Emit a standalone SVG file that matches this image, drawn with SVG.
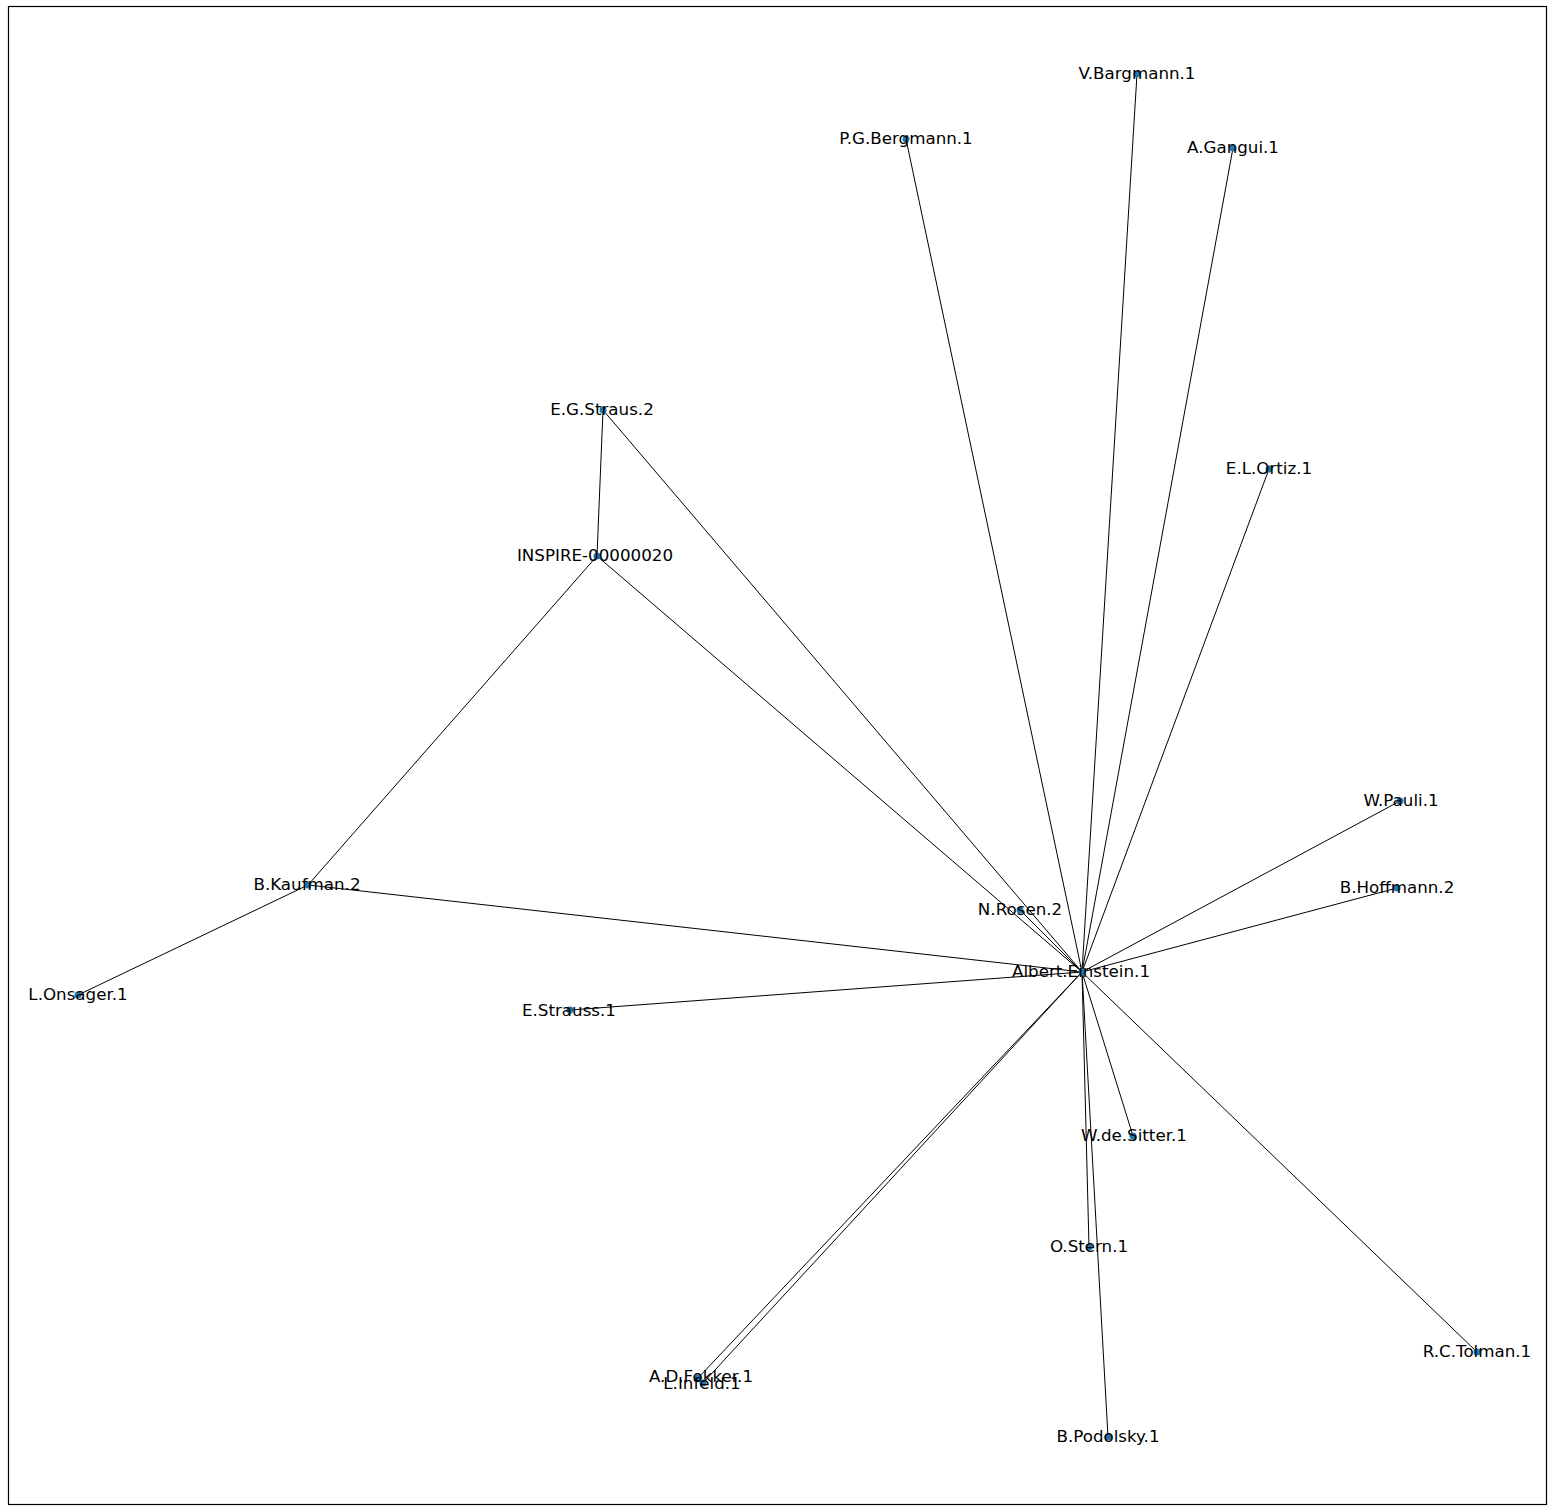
<svg xmlns="http://www.w3.org/2000/svg" width="1554" height="1512" viewBox="0 0 1554 1512">
<style>
.e{stroke:#000;stroke-width:1;fill:none}
.n{fill:#1f78b4}
.t{font-family:"DejaVu Sans",sans-serif;font-size:16.7px;fill:#000;text-anchor:middle;dominant-baseline:central}
</style>
<rect width="1554" height="1512" fill="#fff"/>
<rect x="8.5" y="6.5" width="1538" height="1498" fill="none" stroke="#000" stroke-width="1.2"/>
<g id="edges">
<line class="e" x1="1082" y1="972" x2="1020" y2="910"/>
<line class="e" x1="1082" y1="972" x2="906" y2="139"/>
<line class="e" x1="1082" y1="972" x2="1137" y2="74"/>
<line class="e" x1="1082" y1="972" x2="1233" y2="148"/>
<line class="e" x1="1082" y1="972" x2="1269" y2="469"/>
<line class="e" x1="1082" y1="972" x2="1400" y2="801"/>
<line class="e" x1="1082" y1="972" x2="1397" y2="888"/>
<line class="e" x1="1082" y1="972" x2="1477" y2="1352"/>
<line class="e" x1="1082" y1="972" x2="1108" y2="1437"/>
<line class="e" x1="1082" y1="972" x2="1089" y2="1247"/>
<line class="e" x1="1082" y1="972" x2="1133" y2="1136"/>
<line class="e" x1="1082" y1="972" x2="703" y2="1383"/>
<line class="e" x1="1082" y1="972" x2="698" y2="1378"/>
<line class="e" x1="1082" y1="972" x2="570" y2="1010"/>
<line class="e" x1="1082" y1="972" x2="308" y2="885"/>
<line class="e" x1="1082" y1="972" x2="597" y2="556"/>
<line class="e" x1="1082" y1="972" x2="603" y2="410"/>
<line class="e" x1="597" y1="556" x2="603" y2="410"/>
<line class="e" x1="597" y1="556" x2="308" y2="885"/>
<line class="e" x1="308" y1="885" x2="78" y2="995"/>
</g>
<g id="n-einstein"><circle class="n" cx="1082" cy="972" r="3.5"/><text class="t" x="1081" y="971">Albert.Einstein.1</text></g>
<g id="n-rosen"><circle class="n" cx="1020" cy="910" r="3.5"/><text class="t" x="1020" y="909">N.Rosen.2</text></g>
<g id="n-pgbergmann"><circle class="n" cx="906" cy="139" r="3.5"/><text class="t" x="906" y="138">P.G.Bergmann.1</text></g>
<g id="n-bargmann"><circle class="n" cx="1137" cy="74" r="3.5"/><text class="t" x="1137" y="73">V.Bargmann.1</text></g>
<g id="n-gangui"><circle class="n" cx="1233" cy="148" r="3.5"/><text class="t" x="1233" y="147">A.Gangui.1</text></g>
<g id="n-ortiz"><circle class="n" cx="1269" cy="469" r="3.5"/><text class="t" x="1269" y="468">E.L.Ortiz.1</text></g>
<g id="n-pauli"><circle class="n" cx="1400" cy="801" r="3.5"/><text class="t" x="1401" y="800">W.Pauli.1</text></g>
<g id="n-hoffmann"><circle class="n" cx="1397" cy="888" r="3.5"/><text class="t" x="1397" y="887">B.Hoffmann.2</text></g>
<g id="n-tolman"><circle class="n" cx="1477" cy="1352" r="3.5"/><text class="t" x="1477" y="1351">R.C.Tolman.1</text></g>
<g id="n-podolsky"><circle class="n" cx="1108" cy="1437" r="3.5"/><text class="t" x="1108" y="1436">B.Podolsky.1</text></g>
<g id="n-stern"><circle class="n" cx="1089" cy="1247" r="3.5"/><text class="t" x="1089" y="1246">O.Stern.1</text></g>
<g id="n-desitter"><circle class="n" cx="1133" cy="1136" r="3.5"/><text class="t" x="1134" y="1135">W.de.Sitter.1</text></g>
<g id="n-fokker"><circle class="n" cx="698" cy="1378" r="3.5"/><text class="t" x="701" y="1376">A.D.Fokker.1</text></g>
<g id="n-infeld"><circle class="n" cx="703" cy="1383" r="3.5"/><text class="t" x="702" y="1383">L.Infeld.1</text></g>
<g id="n-strauss"><circle class="n" cx="570" cy="1010" r="3.5"/><text class="t" x="569" y="1010">E.Strauss.1</text></g>
<g id="n-kaufman"><circle class="n" cx="308" cy="885" r="3.5"/><text class="t" x="307" y="884">B.Kaufman.2</text></g>
<g id="n-inspire"><circle class="n" cx="597" cy="556" r="3.5"/><text class="t" x="595" y="555">INSPIRE-00000020</text></g>
<g id="n-egstraus"><circle class="n" cx="603" cy="410" r="3.5"/><text class="t" x="602" y="409">E.G.Straus.2</text></g>
<g id="n-onsager"><circle class="n" cx="78" cy="995" r="3.5"/><text class="t" x="78" y="994">L.Onsager.1</text></g>
</svg>
